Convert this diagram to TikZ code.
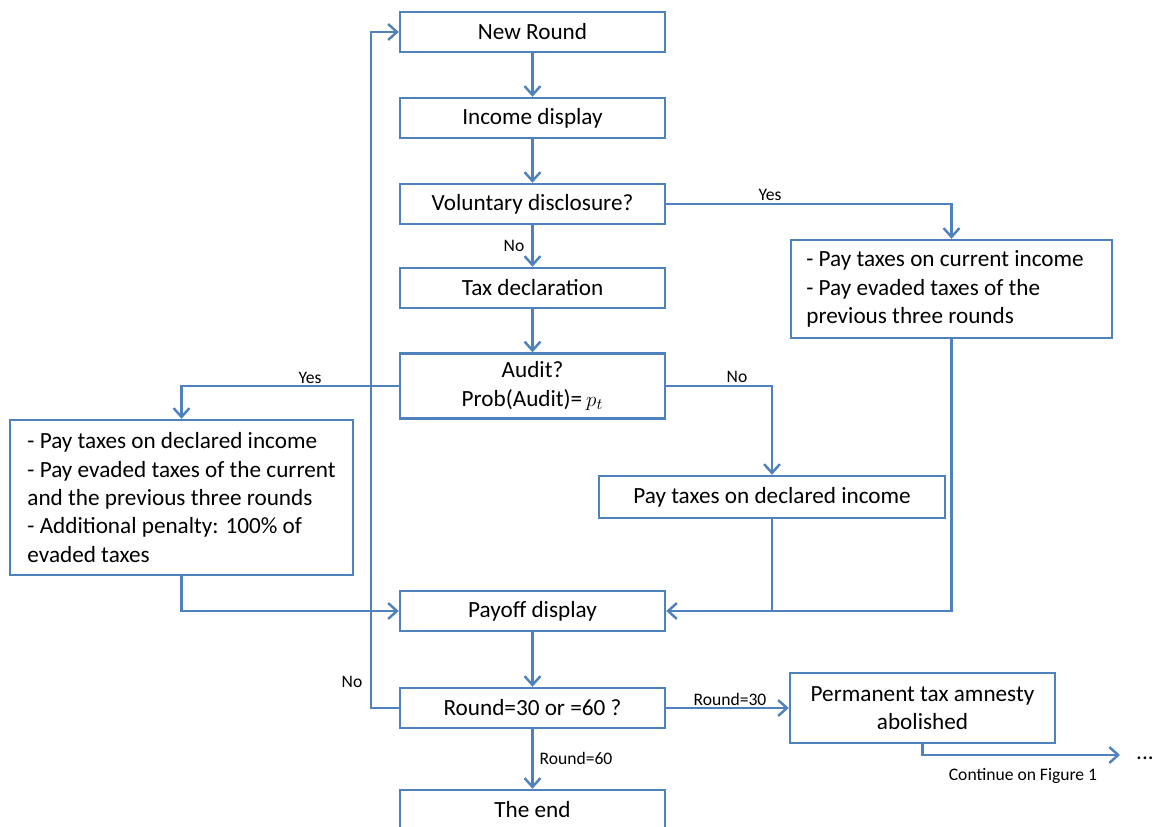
\documentclass[tikz,border=0pt]{standalone}
\usepackage{fontspec}
\setmainfont{Carlito}
\usetikzlibrary{arrows.meta}
\definecolor{flowblue}{RGB}{79,129,189}
\begin{document}
\begin{tikzpicture}[x=0.02cm, y=-0.02cm,
    box/.style={draw=flowblue, line width=1.4pt, minimum width=5.3cm, minimum height=0.8cm,
        inner sep=0pt, font=\fontsize{13.2}{16.2}\selectfont},
    listbox/.style={box, align=left},
    con/.style={draw=flowblue, line width=1.4pt},
    arr/.style={con, -{Straight Barb[length=5pt,width=9pt]}},
    lbl/.style={font=\fontsize{10}{12}\selectfont, inner sep=1pt}]
    \useasboundingbox (0,0) rectangle (1153,827);
    \clip (0,0) rectangle (1153,827);
    % main column
    \node[box] (newround) at (532.5,32) {New Round};
    \node[box] (income) at (532.5,118) {Income display};
    \node[box] (vol) at (532.5,204) {Voluntary disclosure?};
    \node[box] (taxdecl) at (532.5,288) {Tax declaration};
    \node[box, minimum height=1.3cm, align=center] (audit) at (532.5,386) {Audit?\\Prob(Audit)=\,$p_t$};
    \node[box] (payoff) at (532.5,611) {Payoff display};
    \node[box] (check) at (532.5,708) {Round=30 or =60 ?};
    \node[box] (theend) at (532.5,810) {The end};
    % side boxes
    \node[listbox, minimum width=6.42cm, minimum height=1.96cm] (current) at (951.5,289)
        {- Pay taxes on current income\hspace*{0.26cm}\\- Pay evaded taxes of the\\previous three rounds};
    \node[listbox, minimum width=6.86cm, minimum height=3.1cm] (fined) at (181.5,497.5)
        {- Pay taxes on declared income\\- Pay evaded taxes of the current\\and the previous three rounds\\- Additional penalty: 100\% of\\evaded taxes};
    \node[box, minimum width=6.92cm, minimum height=0.84cm] (declared) at (772,497) {Pay taxes on declared income};
    \node[box, minimum height=1.4cm, align=center] (perm) at (922.5,708) {Permanent tax amnesty\\abolished};
    \coordinate (cont) at (1120,755);
    \node[font=\fontsize{13.2}{16.2}\selectfont] (dots) at (1145,758) {...};
    % labels
    \node[lbl] (novol) at (514,246) {No};
    \node[lbl] (yesvol) at (770,195) {Yes};
    \node[lbl] (yesaudit) at (310,378) {Yes};
    \node[lbl] (noaudit) at (737,377) {No};
    \node[lbl] (noloop) at (352,682) {No};
    \node[lbl] (r30) at (730,699) {Round=30};
    \node[lbl] (r60) at (576,758) {Round=60};
    \node[lbl] (contlbl) at (1023,776) {Continue on Figure 1};
    % connectors
    \draw[arr] (newround) -- (income);
    \draw[arr] (income) -- (vol);
    \draw[arr] (vol) -- (taxdecl);
    \draw[arr] (taxdecl) -- (audit);
    \draw[arr] (vol.east) -| (current.north);
    \draw[arr] (audit.west) -| (fined.north);
    \draw[arr] (audit.east) -| (declared.north);
    \draw[arr] (fined.south) |- (payoff.west);
    \draw[arr] (current.south) |- (payoff.east);
    \draw[con] (declared.south) -- (declared.south |- payoff.east);
    \draw[arr] (payoff) -- (check);
    \draw[arr] (check.west) -- ++(-28,0) |- (newround.west);
    \draw[arr] (check.east) -- (perm.west);
    \draw[arr] (check) -- (theend);
    \draw[arr] (perm.south) |- (cont);
\end{tikzpicture}
\end{document}
